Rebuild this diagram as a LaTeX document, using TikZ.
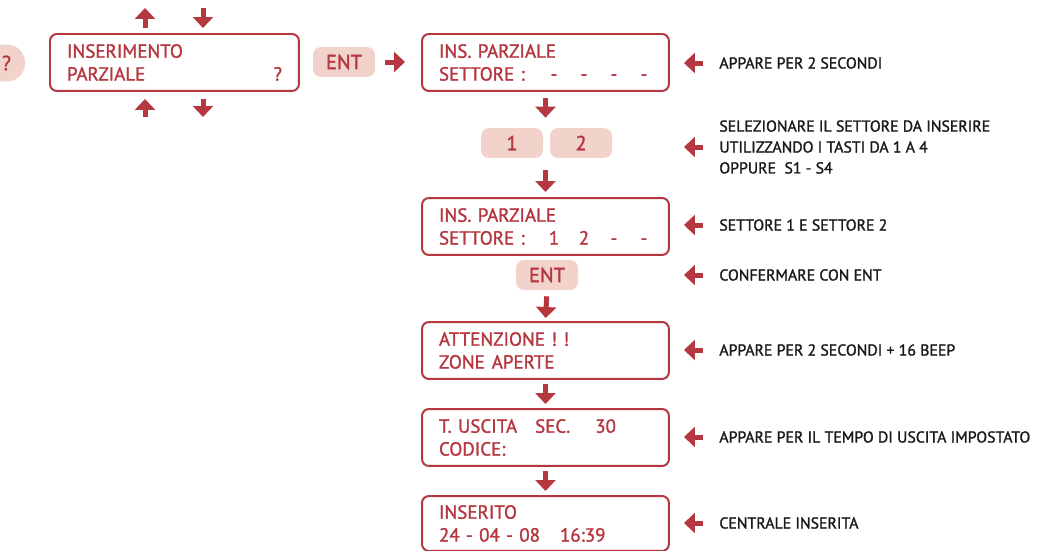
\documentclass[tikz,border=0pt]{standalone}
\usepackage{fontspec}
\setmainfont{PT Sans}[FakeBold=1.5, UprightFont=*, BoldFont=*]
\usetikzlibrary{positioning, arrows.meta}

\definecolor{lcdred}{HTML}{B5373F}
\definecolor{keypink}{HTML}{F2D3CC}
\definecolor{notetext}{HTML}{1A1A1A}

\newcommand{\settore}[4]{\makebox[2cm][l]{SETTORE :}\makebox[0.6cm]{#1}\makebox[0.6cm]{#2}\makebox[0.6cm]{#3}\makebox[0.6cm]{#4}}

\begin{document}
\begin{tikzpicture}
            [x=0.02cm, y=-0.02cm,
             lcd/.style={draw=lcdred, line width=0.04cm, rounded corners=0.14cm, text=lcdred,
                         anchor=north west, minimum height=1.14cm, inner xsep=0.34cm,
                         text width=4.26cm, align=left, font=\fontsize{10.8}{13}\bfseries},
             key/.style={fill=keypink, rounded corners=0.16cm, text=lcdred, minimum width=1.24cm,
                         minimum height=0.6cm, font=\fontsize{11.6}{13}\bfseries},
             note/.style={anchor=west, inner sep=0pt, align=left, text=notetext,
                          font=\fontsize{9}{11.9}\bfseries},
             flow/.style={draw=lcdred, line width=0.1cm, -{Triangle[width=0.4cm, length=0.22cm]}}]
            \useasboundingbox (0,0) rectangle (1038,551);

            \node[key, minimum height=0.74cm, rounded corners=0.36cm] (prev) at (-6,63) {\hspace{0.5cm}?};
            \node[lcd, text width=4.30cm] (menu) at (49,33) {INSERIMENTO\\PARZIALE\hfill ?};
            \node[key] (ent1) at (344,62) {ENT};
            \node[lcd] (ins1) at (421,33) {INS. PARZIALE\\\settore{-}{-}{-}{-}};
            \node[key] (k1) at (512,143) {1};
            \node[key] (k2) at (581,143) {2};
            \node[lcd] (ins2) at (421,197) {INS. PARZIALE\\\settore{1}{2}{-}{-}};
            \node[key] (ent2) at (547,275) {ENT};
            \node[lcd] (warn) at (421,321) {ATTENZIONE ! !\\ZONE\hspace{0.14cm}APERTE};
            \node[lcd] (exit) at (421,408) {T.~USCITA\hspace{0.36cm}SEC.\hspace{0.5cm}30\\CODICE:};
            \node[lcd, minimum height=1.1cm] (done) at (421,495) {INSERITO\\24 - 04 - 08\hspace{0.4cm}16:39};

            \node[note] (n1) at (719,63) {APPARE PER 2 SECONDI};
            \node[note] (n2) at (719,147) {SELEZIONARE IL SETTORE DA INSERIRE\\UTILIZZANDO I TASTI DA 1 A 4\\OPPURE\ \ S1 - S4};
            \node[note] (n3) at (719,225) {SETTORE 1 E SETTORE 2};
            \node[note] (n4) at (719,275) {CONFERMARE CON ENT};
            \node[note] (n5) at (719,350) {APPARE PER 2 SECONDI + 16 BEEP};
            \node[note] (n6) at (719,437) {APPARE PER IL TEMPO DI USCITA IMPOSTATO};
            \node[note] (n7) at (719,523) {CENTRALE INSERITA};

            % scroll arrows round the menu
            \coordinate (nav1) at (145,5);
            \coordinate (nav2) at (203,5);
            \coordinate (nav3) at (145,120);
            \coordinate (nav4) at (203,120);
            \draw[flow, shorten <=0.1cm, shorten >=0.06cm] (menu.north -| nav1) -- (nav1);
            \draw[flow, shorten <=0.06cm, shorten >=0.1cm] (nav2) -- (menu.north -| nav2);
            \draw[flow, shorten <=0.06cm, shorten >=0.14cm] (nav3) -- (menu.south -| nav3);
            \draw[flow, shorten <=0.14cm, shorten >=0.06cm] (menu.south -| nav4) -- (nav4);

            \draw[flow, shorten <=0.2cm, shorten >=0.32cm] (ent1.east) -- (ent1.east -| ins1.west);
            \draw[flow, shorten <=0.12cm, shorten >=0.2cm] (ins1.south) -- (ins1.south |- k1.north);
            \draw[flow, shorten <=0.24cm, shorten >=0.1cm] (ins1.south |- k1.south) -- (ins2.north);
            \draw[flow, shorten <=0.12cm, shorten >=0.06cm] (ent2.south) -- (warn.north);
            \draw[flow, shorten <=0.08cm, shorten >=0.08cm] (warn.south) -- (exit.north);
            \draw[flow, shorten <=0.08cm, shorten >=0.08cm] (exit.south) -- (done.north);

            % notes point back at the display
            \foreach \n/\t in {n1/ins1, n2/ins1, n3/ins2, n4/ins2, n5/warn, n6/exit, n7/done}
                \draw[flow, shorten <=0.32cm, shorten >=0.28cm] (\n.west) -- (\n.west -| \t.east);
        \end{tikzpicture}
\end{document}
